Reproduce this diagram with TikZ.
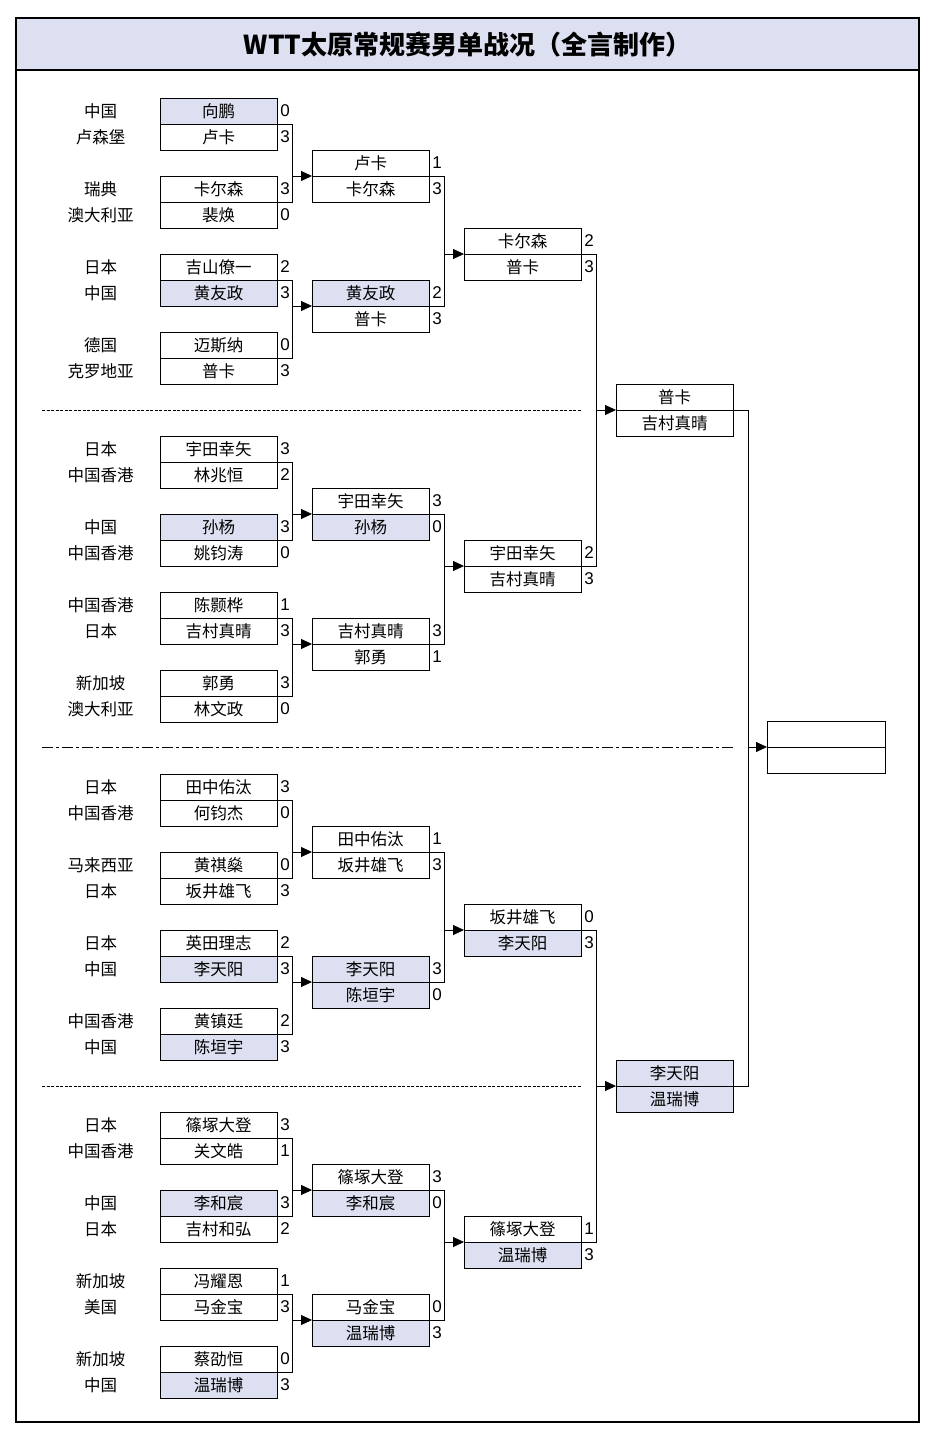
\documentclass[tikz,border=0pt]{standalone}
\usepackage{fontspec}
\newfontfamily\cjk{Noto Sans CJK SC}
\newfontfamily\digits{Liberation Sans}
\usetikzlibrary{arrows.meta, positioning}
\definecolor{paleblue}{RGB}{221,224,241}

\begin{document}
\begin{tikzpicture}[
    x=1pt, y=-1pt,
    line width=0.8pt,
    cell/.style={draw, minimum width=117pt, minimum height=26pt, inner sep=0pt, outer sep=0pt, font=\cjk\fontsize{16.5}{16.5}\selectfont},
    won/.style={cell, fill=paleblue},
    score/.style={font=\digits\fontsize{17}{17}\selectfont, inner sep=3pt},
    nation/.style={font=\cjk\fontsize{16.5}{16.5}\selectfont, text width=118pt, align=center, inner sep=0pt},
    arrow/.style={-{Triangle[length=11pt, width=10pt]}},
    sep/.style={line width=0.6pt, dash pattern=on 3pt off 1.5pt},
    sepdot/.style={line width=0.6pt, dash pattern=on 11pt off 3pt on 3pt off 3pt},
]
    \useasboundingbox[fill=white] (0,0) rectangle (936,1442);

    % Frame and title
    \fill[paleblue] (16,18) rectangle (919,70);
    \draw[line width=2.4pt] (16,18) rectangle (919,1422);
    \draw[line width=2.4pt] (16,70) -- (919,70);
    \node[font=\cjk\bfseries\fontsize{26}{26}\selectfont] (title) at (467.5,45) {WTT太原常规赛男单战况（全言制作）};

    % First round
    \node[won, label={[nation]left:中国}, label={[score]right:0}] (a1) at (218.5,111) {向鹏};
    \node[cell, below=0pt of a1, label={[nation]left:卢森堡}, label={[score]right:3}] (a2) {卢卡};
    \node[cell, label={[nation]left:瑞典}, label={[score]right:3}] (a3) at (218.5,189) {卡尔森};
    \node[cell, below=0pt of a3, label={[nation]left:澳大利亚}, label={[score]right:0}] (a4) {裴焕};
    \node[cell, label={[nation]left:日本}, label={[score]right:2}] (a5) at (218.5,267) {吉山僚一};
    \node[won, below=0pt of a5, label={[nation]left:中国}, label={[score]right:3}] (a6) {黄友政};
    \node[cell, label={[nation]left:德国}, label={[score]right:0}] (a7) at (218.5,345) {迈斯纳};
    \node[cell, below=0pt of a7, label={[nation]left:克罗地亚}, label={[score]right:3}] (a8) {普卡};

    \node[cell, label={[nation]left:日本}, label={[score]right:3}] (a9) at (218.5,449) {宇田幸矢};
    \node[cell, below=0pt of a9, label={[nation]left:中国香港}, label={[score]right:2}] (a10) {林兆恒};
    \node[won, label={[nation]left:中国}, label={[score]right:3}] (a11) at (218.5,527) {孙杨};
    \node[cell, below=0pt of a11, label={[nation]left:中国香港}, label={[score]right:0}] (a12) {姚钧涛};
    \node[cell, label={[nation]left:中国香港}, label={[score]right:1}] (a13) at (218.5,605) {陈颢桦};
    \node[cell, below=0pt of a13, label={[nation]left:日本}, label={[score]right:3}] (a14) {吉村真晴};
    \node[cell, label={[nation]left:新加坡}, label={[score]right:3}] (a15) at (218.5,683) {郭勇};
    \node[cell, below=0pt of a15, label={[nation]left:澳大利亚}, label={[score]right:0}] (a16) {林文政};

    \node[cell, label={[nation]left:日本}, label={[score]right:3}] (a17) at (218.5,787) {田中佑汰};
    \node[cell, below=0pt of a17, label={[nation]left:中国香港}, label={[score]right:0}] (a18) {何钧杰};
    \node[cell, label={[nation]left:马来西亚}, label={[score]right:0}] (a19) at (218.5,865) {黄祺燊};
    \node[cell, below=0pt of a19, label={[nation]left:日本}, label={[score]right:3}] (a20) {坂井雄飞};
    \node[cell, label={[nation]left:日本}, label={[score]right:2}] (a21) at (218.5,943) {英田理志};
    \node[won, below=0pt of a21, label={[nation]left:中国}, label={[score]right:3}] (a22) {李天阳};
    \node[cell, label={[nation]left:中国香港}, label={[score]right:2}] (a23) at (218.5,1021) {黄镇廷};
    \node[won, below=0pt of a23, label={[nation]left:中国}, label={[score]right:3}] (a24) {陈垣宇};

    \node[cell, label={[nation]left:日本}, label={[score]right:3}] (a25) at (218.5,1125) {篠塚大登};
    \node[cell, below=0pt of a25, label={[nation]left:中国香港}, label={[score]right:1}] (a26) {关文皓};
    \node[won, label={[nation]left:中国}, label={[score]right:3}] (a27) at (218.5,1203) {李和宸};
    \node[cell, below=0pt of a27, label={[nation]left:日本}, label={[score]right:2}] (a28) {吉村和弘};
    \node[cell, label={[nation]left:新加坡}, label={[score]right:1}] (a29) at (218.5,1281) {冯耀恩};
    \node[cell, below=0pt of a29, label={[nation]left:美国}, label={[score]right:3}] (a30) {马金宝};
    \node[cell, label={[nation]left:新加坡}, label={[score]right:0}] (a31) at (218.5,1359) {蔡劭恒};
    \node[won, below=0pt of a31, label={[nation]left:中国}, label={[score]right:3}] (a32) {温瑞博};

    % Second round
    \node[cell, label={[score]right:1}] (b1) at (370.5,163) {卢卡};
    \node[cell, below=0pt of b1, label={[score]right:3}] (b2) {卡尔森};
    \node[won, label={[score]right:2}] (b3) at (370.5,293) {黄友政};
    \node[cell, below=0pt of b3, label={[score]right:3}] (b4) {普卡};
    \node[cell, label={[score]right:3}] (b5) at (370.5,501) {宇田幸矢};
    \node[won, below=0pt of b5, label={[score]right:0}] (b6) {孙杨};
    \node[cell, label={[score]right:3}] (b7) at (370.5,631) {吉村真晴};
    \node[cell, below=0pt of b7, label={[score]right:1}] (b8) {郭勇};
    \node[cell, label={[score]right:1}] (b9) at (370.5,839) {田中佑汰};
    \node[cell, below=0pt of b9, label={[score]right:3}] (b10) {坂井雄飞};
    \node[won, label={[score]right:3}] (b11) at (370.5,969) {李天阳};
    \node[won, below=0pt of b11, label={[score]right:0}] (b12) {陈垣宇};
    \node[cell, label={[score]right:3}] (b13) at (370.5,1177) {篠塚大登};
    \node[won, below=0pt of b13, label={[score]right:0}] (b14) {李和宸};
    \node[cell, label={[score]right:0}] (b15) at (370.5,1307) {马金宝};
    \node[won, below=0pt of b15, label={[score]right:3}] (b16) {温瑞博};

    % Quarter finals
    \node[cell, label={[score]right:2}] (c1) at (522.5,241) {卡尔森};
    \node[cell, below=0pt of c1, label={[score]right:3}] (c2) {普卡};
    \node[cell, label={[score]right:2}] (c3) at (522.5,553) {宇田幸矢};
    \node[cell, below=0pt of c3, label={[score]right:3}] (c4) {吉村真晴};
    \node[cell, label={[score]right:0}] (c5) at (522.5,917) {坂井雄飞};
    \node[won, below=0pt of c5, label={[score]right:3}] (c6) {李天阳};
    \node[cell, label={[score]right:1}] (c7) at (522.5,1229) {篠塚大登};
    \node[won, below=0pt of c7, label={[score]right:3}] (c8) {温瑞博};

    % Semi finals and final
    \node[cell] (d1) at (674.5,397) {普卡};
    \node[cell, below=0pt of d1] (d2) {吉村真晴};
    \node[won] (d3) at (674.5,1073) {李天阳};
    \node[won, below=0pt of d3] (d4) {温瑞博};
    \node[cell, minimum width=118pt] (e1) at (826,734) {};
    \node[cell, minimum width=118pt, below=0pt of e1] (e2) {};

    % Section separators
    \draw[sep] (42,410) -- (581,410);
    \draw[sepdot] (42,747) -- (735,747);
    \draw[sep] (42,1086) -- (581,1086);

    % Brackets, first round
    \draw (a1.south east) -- ++(15,0) coordinate (j1) |- (a3.south east);
    \draw[arrow] (j1 |- b1.south west) -- (b1.south west);
    \draw (a5.south east) -- ++(15,0) coordinate (j2) |- (a7.south east);
    \draw[arrow] (j2 |- b3.south west) -- (b3.south west);
    \draw (a9.south east) -- ++(15,0) coordinate (j3) |- (a11.south east);
    \draw[arrow] (j3 |- b5.south west) -- (b5.south west);
    \draw (a13.south east) -- ++(15,0) coordinate (j4) |- (a15.south east);
    \draw[arrow] (j4 |- b7.south west) -- (b7.south west);
    \draw (a17.south east) -- ++(15,0) coordinate (j5) |- (a19.south east);
    \draw[arrow] (j5 |- b9.south west) -- (b9.south west);
    \draw (a21.south east) -- ++(15,0) coordinate (j6) |- (a23.south east);
    \draw[arrow] (j6 |- b11.south west) -- (b11.south west);
    \draw (a25.south east) -- ++(15,0) coordinate (j7) |- (a27.south east);
    \draw[arrow] (j7 |- b13.south west) -- (b13.south west);
    \draw (a29.south east) -- ++(15,0) coordinate (j8) |- (a31.south east);
    \draw[arrow] (j8 |- b15.south west) -- (b15.south west);

    % Brackets, later rounds
    \draw (b1.south east) -- ++(15,0) coordinate (k1) |- (b3.south east);
    \draw[arrow] (k1 |- c1.south west) -- (c1.south west);
    \draw (b5.south east) -- ++(15,0) coordinate (k2) |- (b7.south east);
    \draw[arrow] (k2 |- c3.south west) -- (c3.south west);
    \draw (b9.south east) -- ++(15,0) coordinate (k3) |- (b11.south east);
    \draw[arrow] (k3 |- c5.south west) -- (c5.south west);
    \draw (b13.south east) -- ++(15,0) coordinate (k4) |- (b15.south east);
    \draw[arrow] (k4 |- c7.south west) -- (c7.south west);
    \draw (c1.south east) -- ++(15,0) coordinate (m1) |- (c3.south east);
    \draw[arrow] (m1 |- d1.south west) -- (d1.south west);
    \draw (c5.south east) -- ++(15,0) coordinate (m2) |- (c7.south east);
    \draw[arrow] (m2 |- d3.south west) -- (d3.south west);
    \draw (d1.south east) -- ++(15,0) coordinate (n1) |- (d3.south east);
    \draw[arrow] (n1 |- e1.south west) -- (e1.south west);

\end{tikzpicture}
\end{document}
